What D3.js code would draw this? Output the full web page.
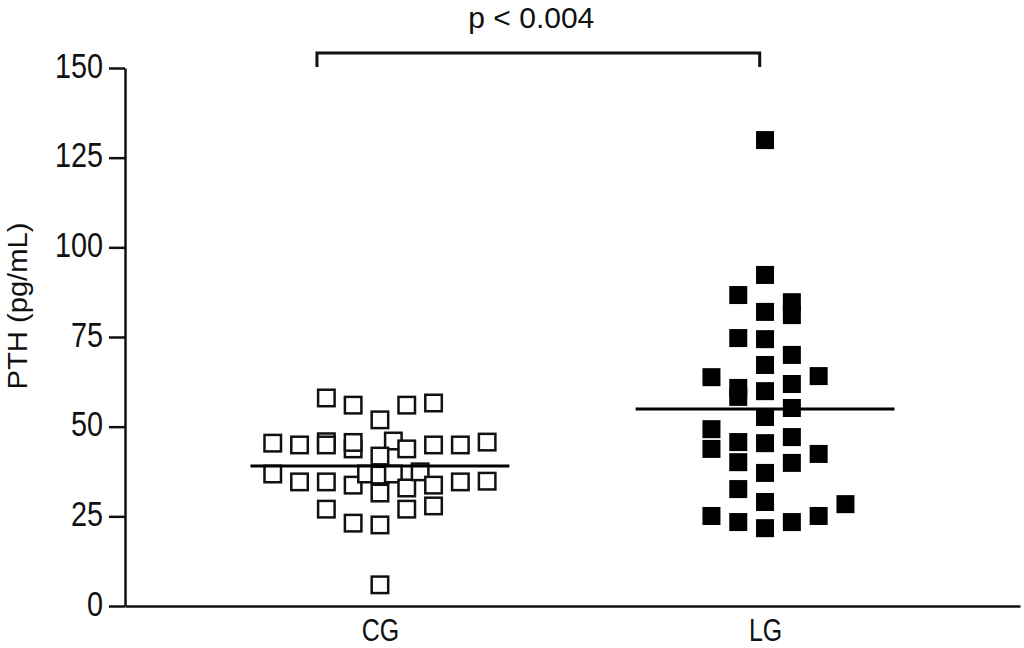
<!DOCTYPE html>
<html>
<head>
<meta charset="utf-8">
<script src="https://cdn.jsdelivr.net/npm/d3@7"></script>
<style>
  html, body { margin: 0; padding: 0; background: #fff; }
  svg { display: block; }
  text { font-family: "Liberation Sans", Arial, sans-serif; fill: #111; }
</style>
</head>
<body>
<svg id="chart" width="1024" height="648"></svg>
<script>
// ---- data ----
const categories = ["CG", "LG"];
const yTicks = [0, 25, 50, 75, 100, 125, 150];
const yLabel = "PTH (pg/mL)";
const pLabel = "p < 0.004";

// CG (open squares): values and horizontal jitter slot (in marker widths)
const cgValues = [58.0, 56.0, 51.9, 56.0, 56.6,
  45.4, 44.9, 43.8, 45.8, 44.9, 45.6, 46.0, 43.8, 41.8, 44.9, 44.9, 45.7,
  36.8, 34.6, 34.6, 33.7, 36.8, 36.5, 31.5, 36.8, 32.9, 37.4, 33.7, 34.6, 34.8,
  27.0, 23.1, 22.6, 27.0, 27.9, 5.9];
const cgSlots = [-2, -1, 0, 1, 2,
  -4, -3, -1, -2, -2, -1, 0.5, 1, 0, 2, 3, 4,
  -4, -3, -2, -1, -0.5, 0, 0, 0.5, 1, 1.5, 2, 3, 4,
  -2, -1, 0, 1, 2, 0];

// LG (filled squares)
const lgValues = [129.9, 92.3, 86.7, 84.7, 81.1, 82.0, 74.7, 74.4, 70.0, 67.2,
  63.8, 64.1, 60.8, 58.3, 59.9, 61.9, 55.2, 52.7, 49.3, 43.8, 45.7, 45.4, 47.1,
  42.4, 40.1, 39.9, 37.1, 32.6, 29.0, 28.4, 25.1, 23.4, 21.7, 23.4, 25.1];
const lgSlots = [0, 0, -1, 1, 1, 0, -1, 0, 1, 0,
  -2, 2, -1, -1, 0, 1, 1, 0, -2, -2, -1, 0, 1,
  2, -1, 1, 0, -1, 0, 3, -2, -1, 0, 1, 2];

const means = [39.0, 54.9];

// ---- layout ----
const svg = d3.select("#chart");
const x = d3.scalePoint().domain(categories).range([125, 1020]).padding(0.662);
const y = d3.scaleLinear().domain([0, 150]).range([606, 68]);
const slot = d3.scaleLinear().domain([0, 1]).range([0, 26.8]);

// horizontally condense axis text (keeps anchor point in place)
function condense(sel, sx) {
  sel.each(function () {
    const t = d3.select(this);
    const x0 = +t.attr("x") || 0;
    t.attr("x", x0 / sx).attr("transform", `scale(${sx},1)`);
  });
}

// y axis
const yAxis = d3.axisLeft(y).tickValues(yTicks).tickSize(16).tickSizeOuter(0).tickPadding(6);
const gy = svg.append("g").attr("transform", "translate(125,0)").call(yAxis);
gy.select(".domain").attr("stroke", "#111").attr("stroke-width", 2.5);
gy.selectAll(".tick line").attr("stroke", "#111").attr("stroke-width", 2.5);
gy.selectAll(".tick text").attr("font-size", 36).attr("font-family", null)
  .attr("dy", "0.25em").style("fill", "#111").call(condense, 0.8);

// x axis
const xAxis = d3.axisBottom(x).tickSize(0).tickSizeOuter(0).tickPadding(12);
const gx = svg.append("g").attr("transform", "translate(0,606)").call(xAxis);
gx.select(".domain").attr("stroke", "#111").attr("stroke-width", 2.5);
gx.selectAll(".tick text").attr("font-size", 32).attr("font-family", null)
  .style("fill", "#111").call(condense, 0.78);

// y label
svg.append("text")
  .attr("transform", "translate(27,306) rotate(-90) scale(1.08,1)")
  .attr("text-anchor", "middle")
  .attr("font-size", 27)
  .text(yLabel);

// CG squares (open)
const cgData = cgValues.map((v, i) => ({v, s: cgSlots[i]}));
const cgSize = 16.5;
svg.append("g").selectAll("rect").data(cgData).join("rect")
  .attr("x", d => x("CG") + slot(d.s) - cgSize / 2)
  .attr("y", d => y(d.v) - cgSize / 2)
  .attr("width", cgSize).attr("height", cgSize)
  .attr("fill", "#fff").attr("stroke", "#111").attr("stroke-width", 2.5);

// LG squares (filled)
const lgData = lgValues.map((v, i) => ({v, s: lgSlots[i]}));
const lgSize = 18;
svg.append("g").selectAll("rect").data(lgData).join("rect")
  .attr("x", d => x("LG") + slot(d.s) - lgSize / 2)
  .attr("y", d => y(d.v) - lgSize / 2)
  .attr("width", lgSize).attr("height", lgSize)
  .attr("fill", "#000");

// mean lines
svg.append("g").selectAll("line").data(categories).join("line")
  .attr("x1", (c) => x(c) - slot(4.83))
  .attr("x2", (c) => x(c) + slot(4.83))
  .attr("y1", (c, i) => y(means[i]))
  .attr("y2", (c, i) => y(means[i]))
  .attr("stroke", "#000").attr("stroke-width", 3);

// significance bracket
const bx1 = x("CG") - slot(2.35), bx2 = x("LG") - slot(0.2);
const by = 53, bdrop = 14;
svg.append("path")
  .attr("d", `M${bx1},${by + bdrop}V${by}H${bx2}V${by + bdrop}`)
  .attr("fill", "none").attr("stroke", "#111").attr("stroke-width", 3);
svg.append("text")
  .attr("x", (bx1 + bx2) / 2 - 7).attr("y", 28)
  .attr("text-anchor", "middle")
  .attr("font-size", 30)
  .text(pLabel);
</script>
</body>
</html>
